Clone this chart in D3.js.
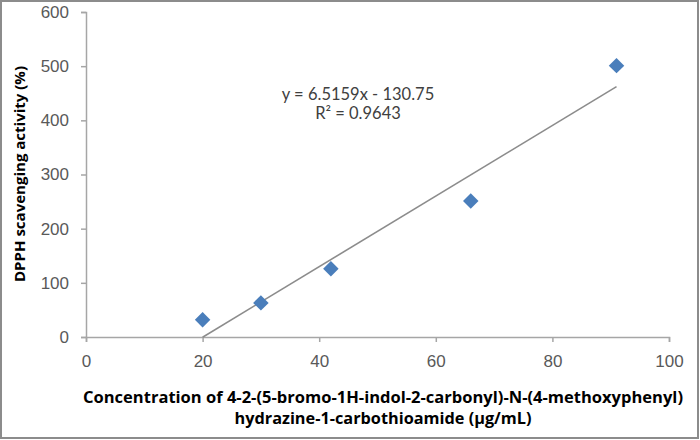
<!DOCTYPE html>
<html>
<head>
<meta charset="utf-8">
<script src="https://cdn.jsdelivr.net/npm/d3@7"></script>
<style>
  body { margin: 0; background: #fff; }
  svg { display: block; font-family: Lato, "Open Sans", sans-serif; }
</style>
</head>
<body>
<svg width="700" height="440"></svg>
<script>
// data
var concentration = [20, 30, 42, 66, 91];
var activity = [32, 63, 126, 251, 501];
var slope = 6.5159, intercept = -130.75;
var xTicks = [0, 20, 40, 60, 80, 100];
var yTicks = [0, 100, 200, 300, 400, 500, 600];

var svg = d3.select("svg");

// outer frame
svg.append("rect")
    .attr("x", 1).attr("y", 1)
    .attr("width", 697).attr("height", 437)
    .attr("fill", "white")
    .attr("stroke", "#8c8c8c")
    .attr("stroke-width", 2);

var x = d3.scaleLinear().domain([0, 100]).range([86, 669]);
var y = d3.scaleLinear().domain([0, 600]).range([337, 12]);

// y axis
var yAxis = svg.append("g")
    .attr("transform", "translate(" + x(0) + ",0)")
    .call(d3.axisLeft(y).tickValues(yTicks).tickSize(5).tickPadding(12));
// x axis
var xAxis = svg.append("g")
    .attr("transform", "translate(0," + y(0) + ")")
    .call(d3.axisBottom(x).tickValues(xTicks).tickSize(5).tickPadding(13));

[xAxis, yAxis].forEach(function(a) {
  a.select(".domain").attr("stroke", "#a6a6a6").attr("stroke-width", 1.5);
  a.selectAll(".tick line").attr("stroke", "#a6a6a6").attr("stroke-width", 1.5);
  a.selectAll(".tick text")
      .attr("fill", "#595959")
      .style("font-size", "17px");
});

// trend line
var xs = [d3.min(concentration), d3.max(concentration)];
svg.append("line")
    .attr("x1", x(xs[0])).attr("y1", y(slope * xs[0] + intercept))
    .attr("x2", x(xs[1])).attr("y2", y(slope * xs[1] + intercept))
    .attr("stroke", "#8c8c8c")
    .attr("stroke-width", 1.6);

// points
svg.selectAll(".pt")
    .data(concentration)
    .enter()
    .append("path")
    .attr("class", "pt")
    .attr("d", d3.symbol().type(d3.symbolSquare).size(120))
    .attr("transform", function(d, i) {
      return "translate(" + x(d) + "," + y(activity[i]) + ") rotate(45)";
    })
    .attr("fill", "#4a7ebb");

// equation
var eq = svg.append("g")
    .attr("fill", "#404040")
    .style("font-size", "16.5px")
    .attr("text-anchor", "middle");
eq.append("text").attr("x", 358).attr("y", 100).text("y = 6.5159x - 130.75");
eq.append("text").attr("x", 358).attr("y", 119).text("R² = 0.9643");

// axis titles
svg.append("text")
    .attr("transform", "translate(25,174) rotate(-90)")
    .attr("text-anchor", "middle")
    .attr("font-weight", "bold")
    .style("font-family", "'Open Sans', sans-serif")
    .style("font-size", "14.5px")
    .attr("fill", "#000")
    .attr("textLength", 216)
    .attr("lengthAdjust", "spacingAndGlyphs")
    .text("DPPH scavenging activity (%)");

var xt = svg.append("g")
    .attr("text-anchor", "middle")
    .attr("font-weight", "bold")
    .style("font-family", "'Open Sans', sans-serif")
    .style("font-size", "15.5px")
    .attr("fill", "#000");
xt.append("text").attr("x", 383).attr("y", 403)
    .attr("textLength", 600)
    .attr("lengthAdjust", "spacingAndGlyphs")
    .text("Concentration of 4-2-(5-bromo-1H-indol-2-carbonyl)-N-(4-methoxyphenyl)");
xt.append("text").attr("x", 383).attr("y", 424)
    .attr("textLength", 297)
    .attr("lengthAdjust", "spacingAndGlyphs")
    .text("hydrazine-1-carbothioamide (µg/mL)");
</script>
</body>
</html>
